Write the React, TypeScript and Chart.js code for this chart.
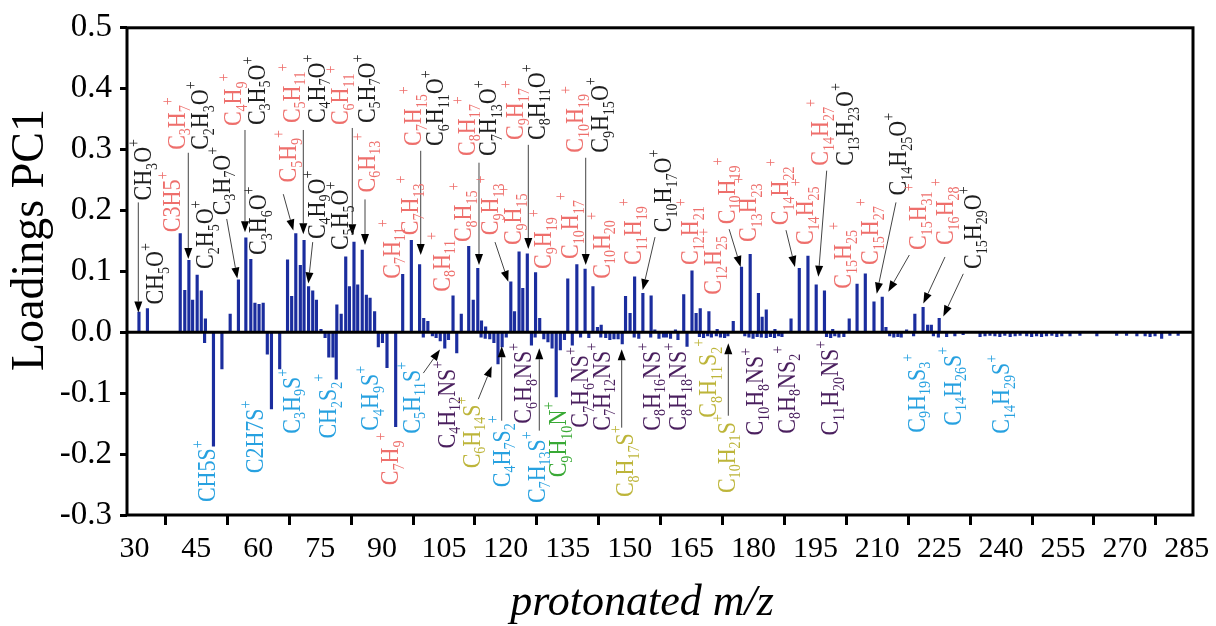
import React, { useEffect, useRef } from 'react';
import { Chart, registerables } from 'chart.js';

Chart.register(...registerables);

// ---- data: positive loadings ----
const MZ_UP = [31.1, 33.15, 41.1, 42.2, 43.2, 44.1, 45.2, 46.2, 47.2, 53.2, 55.2, 57.0, 58.2, 59.2, 60.2, 61.2,
  67.1, 68.1, 69.1, 70.2, 71.1, 72.2, 73.2, 74.1, 75.2, 79.05, 80.1, 81.2, 82.1, 83.2, 84.1, 85.2, 86.2, 87.1, 88.2,
  95.0, 97.1, 99.1, 100.1, 101.1, 107.2, 109.2, 111.0, 112.1, 113.2, 114.1, 115.1, 121.2, 122.1, 123.2, 124.1, 125.2,
  127.2, 128.2, 135.0, 137.2, 139.2, 141.1, 142.2, 143.1, 149.0, 150.1, 151.2, 153.2, 155.2, 156.1, 161.1, 163.1,
  165.1, 166.1, 167.1, 169.2, 171.2, 175.1, 177.1, 179.2, 181.2, 182.1, 183.1, 185.2, 189.1, 191.1, 193.2, 195.2,
  197.2, 199.2, 203.2, 205.1, 207.1, 209.2, 211.2, 212.1, 217.1, 219.1, 221.1, 222.2, 223.1, 225.0];
const LOAD_UP = [0.033, 0.039, 0.162, 0.069, 0.118, 0.053, 0.094, 0.068, 0.022, 0.030, 0.086, 0.155, 0.120, 0.048, 0.046, 0.048,
  0.119, 0.059, 0.162, 0.110, 0.151, 0.075, 0.068, 0.053, 0.005, 0.045, 0.030, 0.124, 0.075, 0.148, 0.078, 0.135, 0.061, 0.056, 0.034,
  0.095, 0.151, 0.111, 0.023, 0.018, 0.060, 0.030, 0.141, 0.053, 0.105, 0.019, 0.009, 0.083, 0.034, 0.132, 0.072, 0.129,
  0.098, 0.023, 0.088, 0.111, 0.104, 0.075, 0.008, 0.012, 0.059, 0.031, 0.091, 0.064, 0.060, 0.004, 0.004, 0.062,
  0.101, 0.031, 0.039, 0.034, 0.005, 0.018, 0.107, 0.128, 0.064, 0.025, 0.037, 0.005, 0.022, 0.105, 0.125, 0.078,
  0.068, 0.005, 0.022, 0.079, 0.096, 0.050, 0.058, 0.008, 0.004, 0.030, 0.041, 0.012, 0.012, 0.023];

// ---- data: negative loadings ----
const MZ_DOWN = [47.0, 49.15, 51.2, 62.2, 63.2, 65.2, 76.2, 77.1, 78.1, 78.9, 89.1, 90.1, 91.2, 93.3,
  100.0, 102.2, 103.1, 104.1, 105.2, 106.1, 108.1, 114.0, 115.0, 116.1, 117.1, 118.1, 119.1, 120.1, 126.2, 127.1,
  129.2, 130.2, 131.2, 132.2, 133.2, 134.2, 136.1, 138.1, 140.1, 143.0, 144.2, 145.2, 146.2, 147.2, 148.2, 151.1,
  152.2, 155.1, 157.1, 158.2, 158.9, 159.9, 161.7, 163.9, 166.9, 167.9, 168.9, 169.8, 171.0, 172.0, 173.0, 173.8,
  177.9, 178.9, 179.9, 180.9, 181.9, 183.1, 184.1, 185.1, 186.1, 186.9, 197.7, 198.7, 199.7, 200.7, 201.9, 213.0,
  214.0, 215.0, 215.8, 218.8, 223.6, 224.8, 226.8, 228.8, 230.8, 234.9, 236.1, 237.3, 238.5, 239.7, 240.9, 242.2,
  243.4, 244.6, 246.2, 247.4, 248.6, 249.8, 251.0, 252.3, 253.5, 254.7, 256.7, 259.1, 263.2, 268.0, 270.4, 272.9,
  274.9, 276.1, 277.3, 278.9, 280.9, 282.9];
const LOAD_DOWN = [-0.017, -0.187, -0.060, -0.036, -0.126, -0.060, -0.009, -0.041, -0.041, -0.077, -0.024, -0.017, -0.058, -0.155,
  -0.008, -0.006, -0.009, -0.014, -0.026, -0.012, -0.034, -0.008, -0.010, -0.011, -0.017, -0.052, -0.024, -0.008, -0.021, -0.008,
  -0.011, -0.016, -0.026, -0.106, -0.029, -0.012, -0.021, -0.008, -0.009, -0.008, -0.009, -0.012, -0.011, -0.011, -0.019, -0.008,
  -0.010, -0.008, -0.010, -0.008, -0.008, -0.010, -0.012, -0.023, -0.007, -0.009, -0.006, -0.008, -0.006, -0.008, -0.009, -0.006,
  -0.006, -0.008, -0.010, -0.007, -0.008, -0.009, -0.007, -0.009, -0.006, -0.007, -0.007, -0.009, -0.006, -0.008, -0.007, -0.006,
  -0.008, -0.007, -0.008, -0.006, -0.006, -0.008, -0.007, -0.006, -0.004, -0.007, -0.006, -0.005, -0.006, -0.007, -0.005, -0.007,
  -0.006, -0.005, -0.006, -0.007, -0.006, -0.007, -0.006, -0.005, -0.007, -0.006, -0.006, -0.005, -0.006, -0.005, -0.005, -0.006,
  -0.006, -0.007, -0.006, -0.010, -0.005, -0.005];

const X_TICKS = [30, 45, 60, 75, 90, 105, 120, 135, 150, 165, 180, 195, 210, 225, 240, 255, 270, 285];
const Y_TICKS = [-0.3, -0.2, -0.1, 0, 0.1, 0.2, 0.3, 0.4, 0.5];

const X_TITLE = 'protonated m/z';
const Y_TITLE = 'Loadings PC1';

// ---- ion annotations (formula, class, m/z of column centre, loading where text starts) ----
const ION_LABELS = [
  { f: 'CH3O+', k: 'o', x: 32.15, y: 0.2165 },
  { f: 'CH5O+', k: 'o', x: 35.0, y: 0.0455 },
  { f: 'C3H5+', k: 'h', x: 39.03, y: 0.1644, plain: true },
  { f: 'C3H7+', k: 'h', x: 40.24, y: 0.2996 },
  { f: 'C2H3O+', k: 'o', x: 45.89, y: 0.2996 },
  { f: 'C2H5O+', k: 'o', x: 47.1, y: 0.104 },
  { f: 'C3H7O+', k: 'o', x: 51.15, y: 0.192 },
  { f: 'C4H9+', k: 'h', x: 53.96, y: 0.3386 },
  { f: 'C3H5O+', k: 'o', x: 59.63, y: 0.3402 },
  { f: 'C3H6O+', k: 'o', x: 60.02, y: 0.127 },
  { f: 'C5H9+', k: 'h', x: 67.28, y: 0.2459 },
  { f: 'C5H11+', k: 'h', x: 68.11, y: 0.3435 },
  { f: 'C4H7O+', k: 'o', x: 74.17, y: 0.3435 },
  { f: 'C4H9O+', k: 'o', x: 74.17, y: 0.153 },
  { f: 'C5H5O+', k: 'o', x: 79.81, y: 0.135 },
  { f: 'C6H11+', k: 'h', x: 79.81, y: 0.3402 },
  { f: 'C5H7O+', k: 'o', x: 86.28, y: 0.3435 },
  { f: 'C6H13+', k: 'h', x: 86.28, y: 0.2296 },
  { f: 'C7H11+', k: 'h', x: 92.34, y: 0.0878 },
  { f: 'C7H13+', k: 'h', x: 96.77, y: 0.1595 },
  { f: 'C7H15+', k: 'h', x: 97.57, y: 0.3061 },
  { f: 'C6H11O+', k: 'o', x: 102.83, y: 0.3061 },
  { f: 'C8H11+', k: 'h', x: 104.45, y: 0.0666 },
  { f: 'C8H15+', k: 'h', x: 109.69, y: 0.1481 },
  { f: 'C8H17+', k: 'h', x: 110.51, y: 0.2896 },
  { f: 'C7H13O+', k: 'o', x: 115.75, y: 0.2896 },
  { f: 'C9H13+', k: 'h', x: 116.16, y: 0.1595 },
  { f: 'C9H15+', k: 'h', x: 121.8, y: 0.1432 },
  { f: 'C9H17+', k: 'h', x: 122.21, y: 0.3159 },
  { f: 'C8H11O+', k: 'o', x: 127.47, y: 0.3159 },
  { f: 'C9H19+', k: 'h', x: 129.07, y: 0.104 },
  { f: 'C10H17+', k: 'h', x: 135.54, y: 0.1204 },
  { f: 'C10H19+', k: 'h', x: 136.75, y: 0.2948 },
  { f: 'C9H15O+', k: 'o', x: 142.81, y: 0.2948 },
  { f: 'C10H20+', k: 'h', x: 143.22, y: 0.0878 },
  { f: 'C11H19+', k: 'h', x: 150.88, y: 0.1106 },
  { f: 'C10H17O+', k: 'o', x: 158.15, y: 0.1644 },
  { f: 'C12H21+', k: 'h', x: 164.62, y: 0.1106 },
  { f: 'C12H25+', k: 'h', x: 170.26, y: 0.0617 },
  { f: 'C10H19+', k: 'h', x: 173.51, y: 0.1774 },
  { f: 'C13H23+', k: 'h', x: 178.75, y: 0.1481 },
  { f: 'C14H22+', k: 'h', x: 186.43, y: 0.1758 },
  { f: 'C14H25+', k: 'h', x: 192.48, y: 0.1432 },
  { f: 'C14H27+', k: 'h', x: 196.12, y: 0.2736 },
  { f: 'C13H23O+', k: 'o', x: 202.18, y: 0.2736 },
  { f: 'C15H25+', k: 'h', x: 201.76, y: 0.0715 },
  { f: 'C15H27+', k: 'h', x: 208.23, y: 0.1106 },
  { f: 'C14H25O+', k: 'o', x: 215.09, y: 0.2247 },
  { f: 'C15H31+', k: 'h', x: 219.94, y: 0.135 },
  { f: 'C16H28+', k: 'h', x: 226.41, y: 0.1432 },
  { f: 'C15H29O+', k: 'o', x: 233.26, y: 0.104 },
  { f: 'CH5S+', k: 's', x: 47.51, y: -0.2788, plain: true },
  { f: 'C2H7S+', k: 's', x: 59.22, y: -0.2315, plain: true },
  { f: 'C3H9S+', k: 's', x: 68.11, y: -0.1664 },
  { f: 'CH2S2+', k: 's', x: 76.98, y: -0.1745 },
  { f: 'C4H9S+', k: 's', x: 87.08, y: -0.1615 },
  { f: 'C7H9+', k: 'h', x: 91.93, y: -0.2511 },
  { f: 'C5H11S+', k: 's', x: 97.18, y: -0.1664 },
  { f: 'C4H12NS+', k: 'ns', x: 105.67, y: -0.1908 },
  { f: 'C6H14S+', k: 'ss', x: 111.72, y: -0.2234 },
  { f: 'C4H7S2+', k: 's', x: 118.99, y: -0.2543 },
  { f: 'C6H8NS+', k: 'ns', x: 124.23, y: -0.15 },
  { f: 'C7H13S+', k: 's', x: 127.47, y: -0.2804 },
  { f: 'C9H10N+', k: 'n', x: 132.71, y: -0.2381 },
  { f: 'C7H6NS+', k: 'ns', x: 137.96, y: -0.1566 },
  { f: 'C7H12NS+', k: 'ns', x: 143.22, y: -0.1615 },
  { f: 'C8H17S+', k: 'ss', x: 148.87, y: -0.2706 },
  { f: 'C8H16NS+', k: 'ns', x: 155.34, y: -0.1615 },
  { f: 'C8H18NS+', k: 'ns', x: 161.78, y: -0.1615 },
  { f: 'C8H11S2+', k: 'ss', x: 169.05, y: -0.1403 },
  { f: 'C10H21S+', k: 'ss', x: 173.51, y: -0.264 },
  { f: 'C10H8NS+', k: 'ns', x: 180.37, y: -0.1696 },
  { f: 'C8H8NS2+', k: 'ns', x: 188.05, y: -0.1664 },
  { f: 'C11H20NS+', k: 'ns', x: 198.54, y: -0.1696 },
  { f: 'C9H19S3+', k: 's', x: 219.55, y: -0.1648 },
  { f: 'C14H26S+', k: 's', x: 228.23, y: -0.1533 },
  { f: 'C14H29S+', k: 's', x: 239.98, y: -0.1664 },
];

// arrows: from (x1,y1) to tip (x2,y2), in m/z and loading units
const ION_ARROWS = [
  [30.94, 0.2133, 30.94, 0.0324],
  [43.05, 0.2948, 43.05, 0.1204],
  [52.36, 0.1861, 54.93, 0.0883],
  [56.79, 0.3322, 56.79, 0.1644],
  [66.07, 0.2268, 68.5, 0.1672],
  [70.92, 0.3322, 70.92, 0.1611],
  [73.2, 0.1481, 72.13, 0.0802],
  [82.79, 0.3355, 82.79, 0.1595],
  [85.87, 0.2182, 85.87, 0.1432],
  [99.37, 0.298, 99.37, 0.1269],
  [113.49, 0.2785, 113.49, 0.1106],
  [117.37, 0.1481, 120.59, 0.0829],
  [125.44, 0.3078, 125.44, 0.1367],
  [139.35, 0.2866, 139.35, 0.1106],
  [156.14, 0.1563, 153.16, 0.0694],
  [174.1, 0.1693, 176.9, 0.1074],
  [187.88, 0.1677, 190.05, 0.1074],
  [197.74, 0.2654, 195.71, 0.0912],
  [214.53, 0.2133, 209.86, 0.0634],
  [217.76, 0.1269, 212.67, 0.0666],
  [226.41, 0.1237, 221.15, 0.0471],
  [230.84, 0.096, 225.99, 0.0259],
  [100.0, -0.067, 104.04, -0.0284],
  [113.32, -0.1098, 116.57, -0.0556],
  [118.99, -0.1452, 118.99, -0.023],
  [128.1, -0.1615, 128.1, -0.0262],
  [148.07, -0.1566, 148.07, -0.0279],
  [173.9, -0.137, 173.9, -0.0181],
];

const CLASS_COLORS: Record<string, string> = {
  h: '#ee6f6c',
  o: '#1e1e1e',
  s: '#27a1e0',
  ns: '#4a1f5e',
  ss: '#bdb53a',
  n: '#39a935',
};

const BAR_COLOR = '#1b2d9e';
const SERIF = '"Liberation Serif", "Times New Roman", serif';

function drawFormula(ctx: CanvasRenderingContext2D, text: string, plain: boolean, cx: number, by: number, color: string) {
  const F = 22;
  const widen = 1.12;
  const cap = F * 0.66 * widen;
  ctx.save();
  ctx.translate(cx + cap / 2, by);
  ctx.rotate(-Math.PI / 2);
  ctx.scale(1, widen);
  ctx.fillStyle = color;
  ctx.textBaseline = 'alphabetic';
  ctx.textAlign = 'left';
  let pos = 0;
  for (const ch of text) {
    let size = F;
    let dy = 0;
    if (ch === '+') {
      size = F * 0.64;
      dy = -F * 0.5;
    } else if (/\d/.test(ch) && !plain) {
      size = F * 0.64;
      dy = F * 0.22;
    }
    ctx.font = `${size}px ${SERIF}`;
    ctx.fillText(ch, pos, dy);
    pos += ctx.measureText(ch).width;
  }
  ctx.restore();
}

function drawArrow(ctx: CanvasRenderingContext2D, x1: number, y1: number, x2: number, y2: number) {
  const ang = Math.atan2(y2 - y1, x2 - x1);
  const L = 11;
  const W = 4;
  const bx = x2 - L * Math.cos(ang);
  const by = y2 - L * Math.sin(ang);
  ctx.save();
  ctx.strokeStyle = '#444';
  ctx.lineWidth = 1;
  ctx.beginPath();
  ctx.moveTo(x1, y1);
  ctx.lineTo(bx, by);
  ctx.stroke();
  ctx.fillStyle = '#000';
  ctx.beginPath();
  ctx.moveTo(x2, y2);
  ctx.lineTo(bx + W * Math.sin(ang), by - W * Math.cos(ang));
  ctx.lineTo(bx - W * Math.sin(ang), by + W * Math.cos(ang));
  ctx.closePath();
  ctx.fill();
  ctx.restore();
}

const decorPlugin = {
  id: 'decor',
  afterDatasetsDraw(chart: any) {
    const { ctx, chartArea, scales } = chart;
    const xs = scales.x;
    const ys = scales.y;
    ctx.save();
    // zero line
    ctx.strokeStyle = '#000';
    ctx.lineWidth = 3;
    ctx.beginPath();
    const y0 = ys.getPixelForValue(0);
    ctx.moveTo(chartArea.left, y0);
    ctx.lineTo(chartArea.right, y0);
    ctx.stroke();
    // frame
    ctx.lineWidth = 3;
    ctx.strokeRect(chartArea.left, chartArea.top, chartArea.right - chartArea.left, chartArea.bottom - chartArea.top);
    // arrows
    for (const a of ION_ARROWS) {
      drawArrow(ctx, xs.getPixelForValue(a[0]), ys.getPixelForValue(a[1]), xs.getPixelForValue(a[2]), ys.getPixelForValue(a[3]));
    }
    // labels
    for (const l of ION_LABELS) {
      drawFormula(ctx, l.f, !!(l as any).plain, xs.getPixelForValue(l.x), ys.getPixelForValue(l.y), CLASS_COLORS[l.k]);
    }
    // axis titles
    ctx.fillStyle = '#000';
    ctx.textAlign = 'center';
    ctx.textBaseline = 'middle';
    ctx.font = `italic 44px ${SERIF}`;
    ctx.fillText(X_TITLE, 642, 603);
    ctx.translate(31, 240);
    ctx.rotate(-Math.PI / 2);
    ctx.font = `46px ${SERIF}`;
    ctx.fillText(Y_TITLE, 0, 0);
    ctx.restore();
  },
};

export default function App() {
  const ref = useRef<HTMLCanvasElement | null>(null);
  useEffect(() => {
    document.body.style.margin = '0';
    const canvas = ref.current;
    if (!canvas) return;
    const points = [
      ...MZ_UP.map((x, i) => ({ x, y: LOAD_UP[i] })),
      ...MZ_DOWN.map((x, i) => ({ x, y: LOAD_DOWN[i] })),
    ];
    const chart = new Chart(canvas, {
      type: 'bar',
      data: {
        datasets: [
          {
            data: points,
            backgroundColor: BAR_COLOR,
            borderWidth: 0,
            barThickness: 2.5,
          } as any,
        ],
      },
      options: {
        animation: false,
        responsive: false,
        maintainAspectRatio: false,
        layout: { padding: { left: 0, top: 24, right: 23, bottom: 0 } },
        plugins: { legend: { display: false }, tooltip: { enabled: false } },
        scales: {
          x: {
            type: 'linear',
            min: 28.2,
            max: 286.5,
            offset: false,
            afterBuildTicks: (s: any) => {
              s.ticks = X_TICKS.map((v) => ({ value: v }));
            },
            afterFit: (s: any) => {
              s.height = 111;
            },
            ticks: {
              autoSkip: false,
              maxRotation: 0,
              color: '#000',
              padding: 6,
              font: { family: SERIF, size: 30 },
              callback: (v: any) => String(v),
            },
            grid: { drawOnChartArea: false, drawTicks: true, tickLength: 10, tickWidth: 3, tickColor: '#000', color: '#000' },
            border: { display: false },
          },
          y: {
            type: 'linear',
            min: -0.3,
            max: 0.5,
            afterBuildTicks: (s: any) => {
              s.ticks = Y_TICKS.map((v) => ({ value: v }));
            },
            afterFit: (s: any) => {
              s.width = 127;
            },
            ticks: {
              color: '#000',
              padding: 8,
              font: { family: SERIF, size: 33 },
              callback: (v: any) => Number(v).toFixed(1),
            },
            grid: { drawOnChartArea: false, drawTicks: true, tickLength: 7, tickWidth: 3, tickColor: '#000', color: '#000' },
            border: { display: false },
          },
        },
      },
      plugins: [decorPlugin],
    } as any);
    return () => chart.destroy();
  }, []);
  return <canvas ref={ref} width={1216} height={626} style={{ display: 'block', width: 1216, height: 626 }} />;
}
